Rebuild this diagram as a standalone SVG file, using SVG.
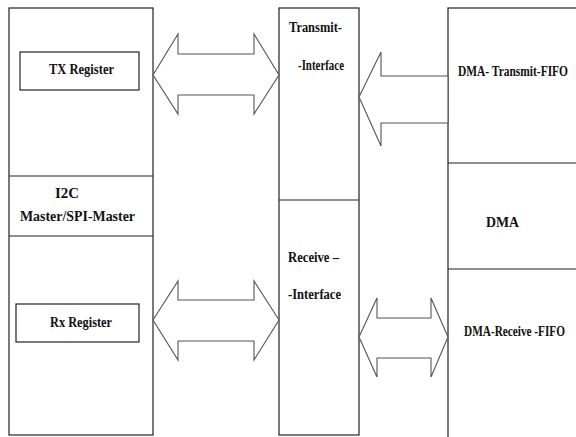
<svg xmlns="http://www.w3.org/2000/svg" width="576" height="437" viewBox="0 0 576 437">
<style>
.box{fill:#fff;stroke:#222;stroke-width:1.2}
.ln{stroke:#222;stroke-width:1.2;fill:none}
.arr{fill:#fff;stroke:#555;stroke-width:1.1;stroke-linejoin:miter}
text{font-family:"Liberation Serif","Times New Roman",serif;font-weight:bold;fill:#111;font-size:15px}
</style>
<rect width="576" height="437" fill="#fff"/>
<g id="i2c-master">
<rect class="box" x="9" y="8" width="144" height="427"/>
<line class="ln" x1="9" y1="176" x2="153" y2="176"/>
<line class="ln" x1="9" y1="236" x2="153" y2="236"/>
<text x="55" y="198" textLength="24" lengthAdjust="spacingAndGlyphs">I2C</text>
<text x="20" y="221" textLength="115" lengthAdjust="spacingAndGlyphs">Master/SPI-Master</text>
</g>
<g id="tx-register">
<rect class="box" x="20" y="52" width="119" height="38"/>
<text x="49" y="74" textLength="65" lengthAdjust="spacingAndGlyphs">TX Register</text>
</g>
<g id="rx-register">
<rect class="box" x="16" y="304" width="123" height="38"/>
<text x="50" y="327" textLength="62" lengthAdjust="spacingAndGlyphs">Rx Register</text>
</g>
<g id="interface">
<rect class="box" x="279" y="8" width="80" height="427"/>
<line class="ln" x1="279" y1="200" x2="359" y2="200"/>
<text x="289" y="32" textLength="53" lengthAdjust="spacingAndGlyphs">Transmit-</text>
<text x="298" y="70" textLength="46" lengthAdjust="spacingAndGlyphs">-Interface</text>
<text x="288" y="262" textLength="51" lengthAdjust="spacingAndGlyphs">Receive –</text>
<text x="288" y="299" textLength="53" lengthAdjust="spacingAndGlyphs">-Interface</text>
</g>
<g id="dma">
<rect class="box" x="448" y="8" width="140" height="440"/>
<line class="ln" x1="448" y1="163" x2="588" y2="163"/>
<line class="ln" x1="448" y1="269" x2="588" y2="269"/>
<text x="458" y="76" font-size="13" textLength="110" lengthAdjust="spacingAndGlyphs">DMA- Transmit-FIFO</text>
<text x="486" y="227" font-size="17" textLength="33" lengthAdjust="spacingAndGlyphs">DMA</text>
<text x="464" y="336" font-size="13" textLength="101" lengthAdjust="spacingAndGlyphs">DMA-Receive -FIFO</text>
</g>
<g id="connectors">
<path class="arr" d="M153,75 L178,34 V54 H254 V34 L279,75 L254,114 V95 H178 V114 Z"/>
<path class="arr" d="M153,320 L178,281 V300 H254 V281 L279,320 L254,360 V341 H178 V360 Z"/>
<path class="arr" d="M359,97 L381,52 V76 H448 V123 H381 V146 Z"/>
<path class="arr" d="M359,337 L377,298 V318 H431 V298 L448,337 L431,377 V358 H377 V377 Z"/>
</g>
</svg>
